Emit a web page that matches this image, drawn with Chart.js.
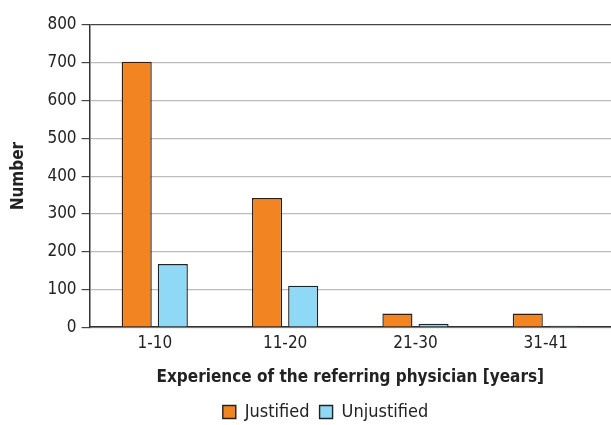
<!DOCTYPE html>
<html lang="en">
<head>
    <meta charset="UTF-8">
    <title>Experience of the referring physician</title>
    <script src="https://cdn.jsdelivr.net/npm/chart.js"></script>
    <style>
        body {
            margin: 0;
            padding: 0;
            background: #fff;
        }
        .chart-box {
            width: 611px;
            height: 425px;
        }
    </style>
</head>
<body>
    <div class="chart-box">
        <canvas id="expChart"></canvas>
    </div>

    <script>
        // Data
        const groups = ["1-10", "11-20", "21-30", "31-41"];
        const justified = [703, 342, 36, 36];
        const unjustified = [167, 110, 9, 4];
        const yTicks = [0, 100, 200, 300, 400, 500, 600, 700, 800];

        const fontFam = "'Liberation Sans Narrow', 'DejaVu Sans Condensed', sans-serif";

        // the legend in the figure sits a bit right of centre
        const nudgeLegend = {
            id: "nudgeLegend",
            afterLayout(chart) {
                chart.legend.left += 18;
                chart.legend.right += 18;
            }
        };

        const ctx = document.getElementById("expChart").getContext("2d");
        new Chart(ctx, {
            type: "bar",
            data: {
                labels: groups,
                datasets: [
                    {
                        label: "Justified",
                        data: justified,
                        backgroundColor: "#f28522",
                        borderColor: "#222",
                        borderWidth: 1.4,
                        borderSkipped: "bottom"
                    },
                    {
                        label: "Unjustified",
                        data: unjustified,
                        backgroundColor: "#8fd8f6",
                        borderColor: "#222",
                        borderWidth: 1.4,
                        borderSkipped: "bottom"
                    }
                ]
            },
            options: {
                responsive: true,
                maintainAspectRatio: false,
                animation: false,
                categoryPercentage: 0.554,
                barPercentage: 0.833,
                layout: {
                    padding: { top: 25, right: 0, left: 4, bottom: -6 }
                },
                plugins: {
                    tooltip: { enabled: false },
                    legend: {
                        position: "bottom",
                        labels: {
                            color: "#222",
                            font: { family: fontFam, size: 18 },
                            boxWidth: 13,
                            boxHeight: 13,
                            padding: 10
                        }
                    }
                },
                scales: {
                    x: {
                        grid: { display: false, drawTicks: false },
                        border: { color: "#333", width: 1.5 },
                        ticks: {
                            color: "#222",
                            font: { family: fontFam, size: 17 },
                            padding: 6
                        },
                        title: {
                            display: true,
                            text: "Experience of the referring physician [years]",
                            color: "#222",
                            font: { family: fontFam, size: 17, weight: "bold" },
                            padding: { top: 8, bottom: 5 }
                        }
                    },
                    y: {
                        min: 0,
                        max: 800,
                        afterBuildTicks: function (axis) {
                            axis.ticks = yTicks.map(v => ({ value: v }));
                        },
                        grid: {
                            color: ctx => ctx.tick && ctx.tick.value === 800 ? "#444" : "#bcbcbc",
                            lineWidth: 1.2,
                            tickLength: 8,
                            tickColor: "#444"
                        },
                        border: { color: "#333", width: 1.5 },
                        ticks: {
                            color: "#222",
                            font: { family: fontFam, size: 17 },
                            padding: 5
                        },
                        title: {
                            display: true,
                            text: "Number",
                            color: "#222",
                            font: { family: fontFam, size: 17, weight: "bold" },
                            padding: { bottom: 14 }
                        }
                    }
                }
            },
            plugins: [nudgeLegend]
        });
    </script>
</body>
</html>
